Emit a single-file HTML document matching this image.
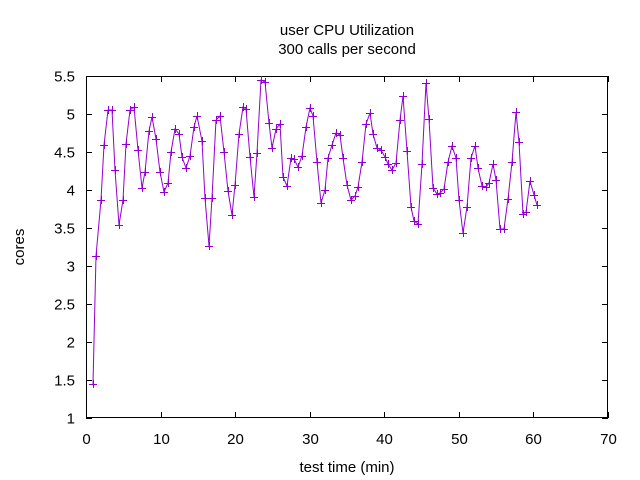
<!DOCTYPE html>
<html><head><meta charset="utf-8"><style>
html,body{margin:0;padding:0;background:#fff;}
svg{display:block;font-family:"Liberation Sans",sans-serif;}
</style></head><body>
<svg id="s" width="640" height="480" xmlns="http://www.w3.org/2000/svg">
<rect width="640" height="480" fill="#fff"/>
<g font-size="15" fill="#000" text-anchor="middle">
<text x="347" y="35">user CPU Utilization</text>
<text x="347" y="54">300 calls per second</text>
<text x="347" y="472">test time (min)</text>
<text transform="translate(24,247) rotate(-90)">cores</text>
</g>
<g id="ticks" stroke="#000" stroke-width="1"></g>
<g id="labs" font-size="15" fill="#000"></g>
<rect x="86.5" y="76.5" width="521" height="341" fill="none" stroke="#000" stroke-width="1"/>
<polyline id="pl" fill="none" stroke="#9400d3" stroke-width="1"/>
<path id="mk" fill="none" stroke="#9400d3" stroke-width="1"/>
</svg>
<script>
var pts=[[93,384],[96,256],[101,200],[104,145],[108,110],[112,110],[115,170],[119,225],[123,200],[126,144],[130,110],[134,107],[138,150],[142,188],[145,172],[149,131],[152,117],[156,139],[160,172],[164,192],[168,183],[171,152],[175,129],[179,134],[182,157],[186,168],[190,156],[194,127],[197,116],[202,141],[205,198],[209,246],[212,198],[216,120],[220,116],[224,152],[228,191],[232,215],[235,185],[239,134],[243,107],[246,109],[250,157],[254,197],[257,153],[261,80],[265,82],[269,123],[272,148],[276,129],[280,124],[283,177],[287,186],[291,158],[294,159],[298,167],[302,156],[306,127],[310,108],[313,116],[317,162],[321,203],[325,190],[328,158],[332,145],[336,133],[340,135],[343,158],[347,185],[351,200],[355,196],[358,187],[362,162],[366,124],[370,113],[373,134],[377,148],[381,150],[385,157],[388,164],[392,170],[396,163],[400,120],[403,96],[407,151],[411,207],[414,221],[418,224],[422,164],[426,83],[429,119],[433,188],[437,194],[440,193],[444,189],[448,162],[452,146],[456,158],[459,200],[463,233],[467,207],[471,158],[475,146],[478,168],[482,186],[486,187],[489,183],[493,164],[496,180],[500,229],[504,229],[508,199],[512,162],[516,112],[519,142],[523,214],[526,212],[530,181],[534,195],[537,205]];
document.getElementById('pl').setAttribute('points',pts.map(p=>p.join(',')).join(' '));
var d='';pts.forEach(p=>{d+='M'+(p[0]-4)+' '+(p[1]+.5)+'h8M'+(p[0]+.5)+' '+(p[1]-4)+'v8';});
document.getElementById('mk').setAttribute('d',d);
var t='',l='';
for(var i=0;i<=9;i++){var v=1+i*0.5,y=418-i*38+.5;
t+='<line x1="86" y1="'+y+'" x2="92" y2="'+y+'"/><line x1="602" y1="'+y+'" x2="608" y2="'+y+'"/>';
l+='<text x="75" y="'+(y+5)+'" text-anchor="end">'+v+'</text>';}
for(var j=0;j<=7;j++){var x=86+j*522/7;x=Math.round(x)+.5;
t+='<line x1="'+x+'" y1="418" x2="'+x+'" y2="412"/><line x1="'+x+'" y1="76" x2="'+x+'" y2="82"/>';
l+='<text x="'+x+'" y="444" text-anchor="middle">'+(j*10)+'</text>';}
document.getElementById('ticks').innerHTML=t;
document.getElementById('labs').innerHTML=l;
</script>
</body></html>
